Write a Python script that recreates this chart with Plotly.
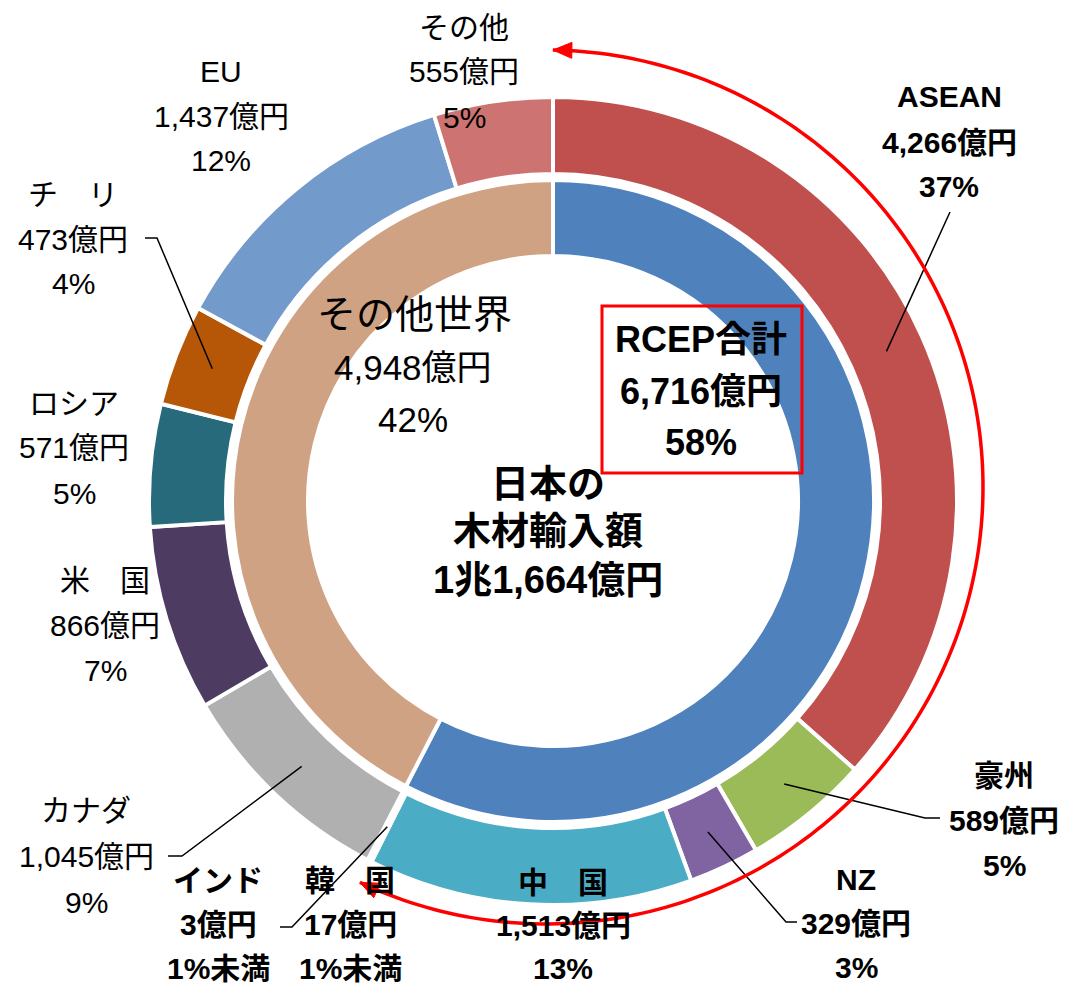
import numpy as np
import plotly.graph_objects as go

# -- data --
outer_labels = ["ASEAN", "豪州", "NZ", "中国", "韓国", "インド",
                "カナダ", "米国", "ロシア", "チリ", "EU", "その他"]
outer_names = ["ASEAN", "豪州", "NZ", "中　国", "韓　国", "インド",
               "カナダ", "米　国", "ロシア", "チ　リ", "EU", "その他"]
outer_values = [4266, 589, 329, 1513, 17, 3, 1045, 866, 571, 473, 1437, 555]
inner_labels = ["RCEP合計", "その他世界"]
inner_values = [6716, 4948]

COLOURS = {
    "ASEAN": "#C0504D", "豪州": "#9BBB59", "NZ": "#8064A2", "中国": "#4BACC6",
    "韓国": "#2C4D75", "インド": "#772C2A", "カナダ": "#B0B0B0", "米国": "#4E3B62",
    "ロシア": "#276A7C", "チリ": "#B65708", "EU": "#729ACA", "その他": "#CD7371",
    "RCEP合計": "#4F81BD", "その他世界": "#CFA284",
}

# the page body has an 8px margin, so work in window pixels and shift back
OFF = 8
FW, FH = 1066 - OFF, 989 - OFF
CX, CY = 553, 501
R_OUT, R_OUT_IN = 404, 327
R_IN, R_IN_IN = 321, 245
FONT = "Liberation Sans, Noto Sans CJK JP"


def fx(x):
    return (x - OFF) / FW


def fy(y):
    return 1 - (y - OFF) / FH


def pct_text(v, total):
    p = v / total * 100
    return "1%未満" if p < 1 else f"{round(p)}%"


def slice_point(values, i, r):
    """Pixel point at the middle of slice i (clockwise from 12 o'clock)."""
    total = sum(values)
    b = np.radians((sum(values[:i]) + values[i] / 2) / total * 360)
    return CX + r * np.sin(b), CY - r * np.cos(b)


total = sum(outer_values)
fig = go.Figure()

fig.add_trace(go.Pie(
    values=outer_values, labels=outer_labels, sort=False, direction="clockwise",
    rotation=0, hole=R_OUT_IN / R_OUT, textinfo="none",
    marker=dict(colors=[COLOURS[k] for k in outer_labels], line=dict(color="white", width=4)),
    domain=dict(x=[fx(CX - R_OUT), fx(CX + R_OUT)], y=[fy(CY + R_OUT), fy(CY - R_OUT)]),
    showlegend=False,
))
fig.add_trace(go.Pie(
    values=inner_values, labels=inner_labels, sort=False, direction="clockwise",
    rotation=0, hole=R_IN_IN / R_IN, textinfo="none",
    marker=dict(colors=[COLOURS[k] for k in inner_labels], line=dict(color="white", width=4)),
    domain=dict(x=[fx(CX - R_IN), fx(CX + R_IN)], y=[fy(CY + R_IN), fy(CY - R_IN)]),
    showlegend=False,
))


def add_text(x, y, text, size=30, bold=False):
    fig.add_annotation(
        x=fx(x), y=fy(y), xref="paper", yref="paper", text=text, showarrow=False,
        xanchor="center", yanchor="middle",
        font=dict(family=FONT, size=size, color="black", weight="bold" if bold else "normal"),
    )


def add_lines(x, ys, lines, size=30, bold=False):
    for y, t in zip(ys, lines):
        add_text(x, y, t, size, bold)


# label block positions (x, first-line y, spacing, bold)
label_pos = {
    "ASEAN": (949, 97, 45, True), "豪州": (1004, 775, 45, True),
    "NZ": (856, 879, 44, True), "中国": (563, 882, 43, True),
    "韓国": (350, 880, 44, True), "インド": (218, 880, 44, True),
    "カナダ": (86, 810, 46, False), "米国": (105, 580, 45, False),
    "ロシア": (74, 403, 45, False), "チリ": (73, 195, 44, False),
    "EU": (221, 71, 45, False), "その他": (464, 27, 45, False),
}
for i, key in enumerate(outer_labels):
    x, y0, dy, bold = label_pos[key]
    v = outer_values[i]
    add_lines(x, [y0, y0 + dy, y0 + 2 * dy],
              [outer_names[i], f"{v:,}億円", pct_text(v, total)], bold=bold)

# inner ring labels
add_text(414, 315, inner_labels[1], size=39)
add_lines(413, [367, 419], [f"{inner_values[1]:,}億円", pct_text(inner_values[1], total)], size=35)
add_lines(701, [340, 391, 443],
          [inner_labels[0], f"{inner_values[0]:,}億円", pct_text(inner_values[0], total)],
          size=36, bold=True)

# centre title
cho, oku = divmod(total, 10000)
add_lines(548, [484, 531, 580], ["日本の", "木材輸入額", f"{cho}兆{oku:,}億円"], size=38, bold=True)

# leader lines: label side points -> middle of slice
leaders = {
    "ASEAN": [(950, 212)],
    "豪州": [(940, 818), (925, 818)],
    "NZ": [(797, 922), (786, 922)],
    "韓国": [(280, 927), (292, 927)],
    "カナダ": [(168, 856), (182, 856)],
    "チリ": [(145, 238), (157, 238)],
}
r_mid = (R_OUT + R_OUT_IN) / 2
for key, pts in leaders.items():
    sx, sy = slice_point(outer_values, outer_labels.index(key), r_mid)
    pts = pts + [(sx, sy)]
    path = "M " + " L ".join(f"{fx(a):.5f},{fy(b):.5f}" for a, b in pts)
    fig.add_shape(type="path", path=path, xref="paper", yref="paper",
                  line=dict(color="black", width=1.5))

# red RCEP box
fig.add_shape(type="rect", x0=fx(602), x1=fx(802), y0=fy(473), y1=fy(306),
              xref="paper", yref="paper", line=dict(color="#FF0000", width=3))

# red double-headed arc around the RCEP slices
ACX, ACY, AR = 546, 487, 437
b = np.radians(np.linspace(0.9, 205.2, 200))
ax_pts = ACX + AR * np.sin(b)
ay_pts = ACY - AR * np.cos(b)
path = "M " + " L ".join(f"{fx(a):.5f},{fy(c):.5f}" for a, c in zip(ax_pts, ay_pts))
fig.add_shape(type="path", path=path, xref="paper", yref="paper",
              line=dict(color="#FF0000", width=3.5))


def arrow_head(tip, d, length=19, half=8):
    d = np.array(d) / np.linalg.norm(d)
    n = np.array([-d[1], d[0]])
    t = np.array(tip)
    base = t - length * d
    p1, p2 = base + half * n, base - half * n
    pts = [t, p1, p2]
    return "M " + " L ".join(f"{fx(p[0]):.5f},{fy(p[1]):.5f}" for p in pts) + " Z"


b0, b1 = b[0], b[-1]
for tip, d in [((ax_pts[0], ay_pts[0]), (-np.cos(b0), -np.sin(b0))),
               ((ax_pts[-1], ay_pts[-1]), (np.cos(b1), np.sin(b1)))]:
    fig.add_shape(type="path", path=arrow_head(tip, d), xref="paper", yref="paper",
                  fillcolor="#FF0000", line=dict(color="#FF0000", width=1))

# cut-off legend stroke at right edge
fig.add_shape(type="line", x0=fx(1062), x1=fx(1062), y0=fy(425), y1=fy(593),
              xref="paper", yref="paper", line=dict(color="#4A6FA5", width=3))

fig.update_layout(
    width=FW, height=FH, margin=dict(l=0, r=0, t=0, b=0),
    paper_bgcolor="white", plot_bgcolor="white",
    font=dict(family=FONT),
)
fig.write_html("out.html")
